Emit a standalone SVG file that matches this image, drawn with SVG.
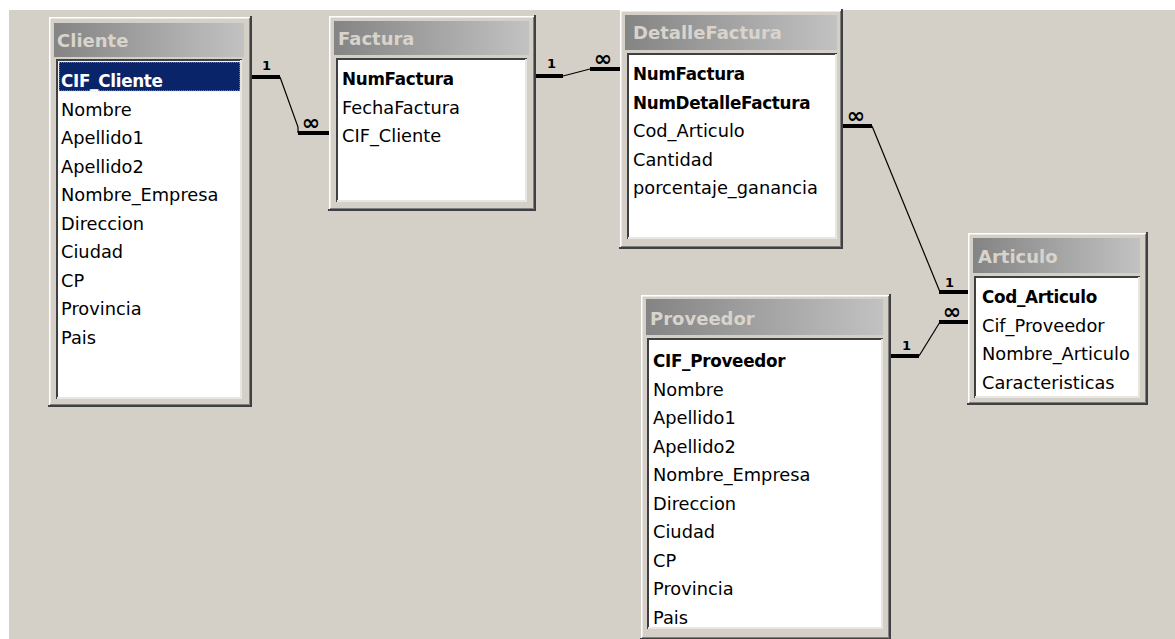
<svg xmlns="http://www.w3.org/2000/svg" width="1175" height="639" viewBox="0 0 1175 639">
<defs>
<linearGradient id="hdr" x1="0" y1="0" x2="1" y2="0">
<stop offset="0" stop-color="#848484"/>
<stop offset="1" stop-color="#c2c2c2"/>
</linearGradient>
<style>
.frame{fill:#d4d0c8}
.hl{fill:none;stroke:#ffffff;stroke-width:1.5}
.sh{fill:none;stroke:#404040;stroke-width:2}
.sh2{fill:none;stroke:#808080;stroke-width:1}
.hdr{fill:url(#hdr)}
.title{font-family:"DejaVu Sans",Verdana,sans-serif;font-weight:bold;font-size:18px;fill:#d8d4cc}
.list{fill:#ffffff}
.sk1{fill:none;stroke:#404040;stroke-width:2}
.sk2{fill:none;stroke:#e8e6e0;stroke-width:2}
.f{font-family:"DejaVu Sans",Verdana,sans-serif;font-size:17.8px;fill:#000}
.k{font-family:"DejaVu Sans",Verdana,sans-serif;font-size:16.8px;font-weight:bold;fill:#000;letter-spacing:-0.3px}
.bar{fill:#000}
.ln{stroke:#000;stroke-width:1.2;fill:none}
.one{font-family:"DejaVu Sans",Verdana,sans-serif;font-size:13px;font-weight:bold;fill:#000}
.inf{font-family:"DejaVu Sans",Verdana,sans-serif;font-size:22px;font-weight:bold;fill:#000;text-anchor:middle}
</style>
</defs>
<rect x="0" y="0" width="1175" height="639" fill="#ffffff"/>
<rect x="9" y="10" width="1166" height="629" fill="#d4d0c8"/>

<g id="connectors">
<rect class="bar" x="251" y="75" width="29" height="4"/>
<text class="one" x="262" y="70">1</text>
<polyline class="ln" points="280,77 298,127 298,133"/>
<rect class="bar" x="298" y="131" width="31" height="4"/>
<text class="inf" x="311" y="130">∞</text>

<rect class="bar" x="535" y="74" width="28" height="4"/>
<text class="one" x="547" y="68">1</text>
<line class="ln" x1="563" y1="76" x2="590" y2="69"/>
<rect class="bar" x="590" y="67" width="30" height="4"/>
<text class="inf" x="603" y="66">∞</text>

<rect class="bar" x="842" y="124" width="30" height="4"/>
<text class="inf" x="856" y="123">∞</text>
<line class="ln" x1="872" y1="126" x2="940" y2="292"/>
<rect class="bar" x="939" y="290" width="29" height="4"/>
<text class="one" x="945" y="287">1</text>

<rect class="bar" x="890" y="354" width="29" height="4"/>
<text class="one" x="902" y="350">1</text>
<line class="ln" x1="919" y1="356" x2="940" y2="322"/>
<rect class="bar" x="939" y="320" width="29" height="4"/>
<text class="inf" x="952" y="319">∞</text>
</g>

<g id="cliente">
<rect class="frame" x="49" y="17" width="202" height="389"/>
<path class="hl" d="M49.75 406 V17.75 H251"/>
<path class="sh2" d="M249.5 18 V404.5 H50"/>
<path class="sh" d="M251 16 V406 H48"/>
<rect class="hdr" x="54" y="23" width="190" height="34"/>
<text class="title" x="57" y="47">Cliente</text>
<rect class="list" x="56" y="59" width="186" height="340"/>
<path class="sk1" d="M57 399 V60 H242"/>
<path class="sk2" d="M241 60 V398 H57"/>
<rect x="59" y="62" width="181" height="29" fill="#0a246a" stroke="#d8d4a0" stroke-width="1" stroke-dasharray="1,1"/>
<text class="k" x="61" y="87" style="fill:#ffffff">CIF_Cliente</text>
<text class="f" x="61" y="115.5">Nombre</text>
<text class="f" x="61" y="144">Apellido1</text>
<text class="f" x="61" y="172.5">Apellido2</text>
<text class="f" x="61" y="201">Nombre_Empresa</text>
<text class="f" x="61" y="229.5">Direccion</text>
<text class="f" x="61" y="258">Ciudad</text>
<text class="f" x="61" y="286.5">CP</text>
<text class="f" x="61" y="315">Provincia</text>
<text class="f" x="61" y="343.5">Pais</text>
</g>

<g id="factura">
<rect class="frame" x="329" y="16" width="206" height="194"/>
<path class="hl" d="M329.75 210 V16.75 H535"/>
<path class="sh2" d="M533.5 17 V208.5 H330"/>
<path class="sh" d="M535 15 V210 H328"/>
<rect class="hdr" x="334" y="21" width="195" height="34"/>
<text class="title" x="338" y="45">Factura</text>
<rect class="list" x="336" y="58" width="191" height="144"/>
<path class="sk1" d="M337 202 V59 H527"/>
<path class="sk2" d="M526 59 V201 H337"/>
<text class="k" x="342" y="85">NumFactura</text>
<text class="f" x="342" y="113.5">FechaFactura</text>
<text class="f" x="342" y="142">CIF_Cliente</text>
</g>

<g id="detallefactura">
<rect class="frame" x="620" y="10" width="222" height="238"/>
<path class="hl" d="M620.75 248 V10.75 H842"/>
<path class="sh2" d="M840.5 11 V246.5 H621"/>
<path class="sh" d="M842 9 V248 H619"/>
<rect class="hdr" x="625" y="15" width="212" height="35"/>
<text class="title" x="633" y="39">DetalleFactura</text>
<rect class="list" x="627" y="53" width="210" height="186"/>
<path class="sk1" d="M628 239 V54 H837"/>
<path class="sk2" d="M836 54 V238 H628"/>
<text class="k" x="633" y="80">NumFactura</text>
<text class="k" x="633" y="108.5">NumDetalleFactura</text>
<text class="f" x="633" y="137">Cod_Articulo</text>
<text class="f" x="633" y="165.5">Cantidad</text>
<text class="f" x="633" y="194">porcentaje_ganancia</text>
</g>

<g id="articulo">
<rect class="frame" x="968" y="233" width="179" height="171"/>
<path class="hl" d="M968.75 404 V233.75 H1147"/>
<path class="sh2" d="M1145.5 234 V402.5 H969"/>
<path class="sh" d="M1147 232 V404 H967"/>
<rect class="hdr" x="973" y="238" width="167" height="35"/>
<text class="title" x="978" y="263">Articulo</text>
<rect class="list" x="974" y="276" width="166" height="122"/>
<path class="sk1" d="M975 398 V277 H1140"/>
<path class="sk2" d="M1139 277 V397 H975"/>
<text class="k" x="982" y="303">Cod_Articulo</text>
<text class="f" x="982" y="331.5">Cif_Proveedor</text>
<text class="f" x="982" y="360">Nombre_Articulo</text>
<text class="f" x="982" y="388.5">Caracteristicas</text>
</g>

<g id="proveedor">
<rect class="frame" x="641" y="295" width="249" height="344"/>
<path class="hl" d="M641.75 639 V295.75 H890"/>
<path class="sh2" d="M888.5 296 V637.5 H642"/>
<path class="sh" d="M890 294 V639 H640"/>
<rect class="hdr" x="646" y="299" width="237" height="36"/>
<text class="title" x="650" y="325">Proveedor</text>
<rect class="list" x="647" y="338" width="236" height="291"/>
<path class="sk1" d="M648 629 V339 H883"/>
<path class="sk2" d="M882 339 V628 H648"/>
<text class="k" x="653" y="367">CIF_Proveedor</text>
<text class="f" x="653" y="395.5">Nombre</text>
<text class="f" x="653" y="424">Apellido1</text>
<text class="f" x="653" y="452.5">Apellido2</text>
<text class="f" x="653" y="481">Nombre_Empresa</text>
<text class="f" x="653" y="509.5">Direccion</text>
<text class="f" x="653" y="538">Ciudad</text>
<text class="f" x="653" y="566.5">CP</text>
<text class="f" x="653" y="595">Provincia</text>
<text class="f" x="653" y="623.5">Pais</text>
</g>
</svg>
